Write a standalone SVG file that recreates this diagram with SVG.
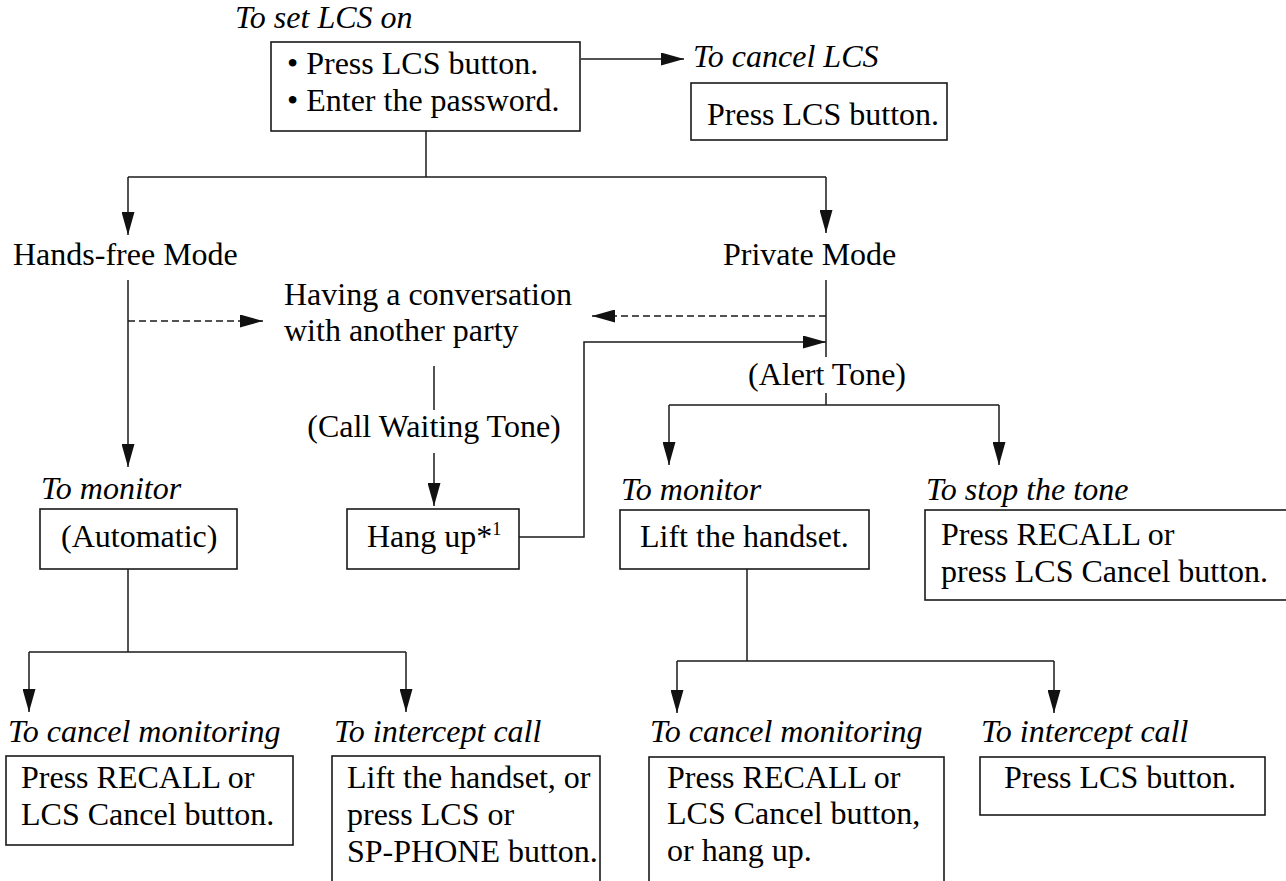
<svg xmlns="http://www.w3.org/2000/svg" width="1286" height="881" viewBox="0 0 1286 881">
<defs>
<marker id="ah" viewBox="0 0 23 13" markerWidth="23" markerHeight="13" markerUnits="userSpaceOnUse" refX="23" refY="6.5" orient="auto">
<path d="M0,0 L23,6.5 L0,13 Z" fill="#111"/>
</marker>
<style>
.t{font-family:"Liberation Serif","Times New Roman",serif;font-size:32px;fill:#000}
.i{font-style:italic}
.m{text-anchor:middle}
.box{fill:#fff;stroke:#1a1a1a;stroke-width:1.6}
.ln{fill:none;stroke:#1a1a1a;stroke-width:1.5}
.ar{fill:none;stroke:#1a1a1a;stroke-width:1.5;marker-end:url(#ah)}
.da{stroke-dasharray:7 4}
</style>
</defs>
<rect width="1286" height="881" fill="#fff"/>

<g id="connectors">
<line class="ar" x1="581" y1="59" x2="684" y2="59"/>
<line class="ln" x1="426" y1="131" x2="426" y2="177"/>
<line class="ln" x1="128" y1="177" x2="826" y2="177"/>
<line class="ar" x1="128" y1="177" x2="128" y2="235"/>
<line class="ar" x1="826" y1="177" x2="826" y2="233"/>
<line class="ar" x1="128" y1="280" x2="128" y2="467"/>
<line class="ar da" x1="128" y1="321" x2="263" y2="321"/>
<line class="ln" x1="826" y1="280" x2="826" y2="357"/>
<line class="ar da" x1="826" y1="316" x2="592" y2="316"/>
<path class="ar" d="M519,537 H584 V342 H826"/>
<line class="ln" x1="434" y1="366" x2="434" y2="410"/>
<line class="ar" x1="434" y1="453" x2="434" y2="506"/>
<line class="ln" x1="826" y1="393" x2="826" y2="405"/>
<line class="ln" x1="669" y1="405" x2="999" y2="405"/>
<line class="ar" x1="669" y1="405" x2="669" y2="465"/>
<line class="ar" x1="999" y1="405" x2="999" y2="465"/>
<line class="ln" x1="128" y1="569" x2="128" y2="652"/>
<line class="ln" x1="29" y1="652" x2="406" y2="652"/>
<line class="ar" x1="29" y1="652" x2="29" y2="712"/>
<line class="ar" x1="406" y1="652" x2="406" y2="712"/>
<line class="ln" x1="747" y1="569" x2="747" y2="661"/>
<line class="ln" x1="677" y1="661" x2="1054" y2="661"/>
<line class="ar" x1="677" y1="661" x2="677" y2="713"/>
<line class="ar" x1="1054" y1="661" x2="1054" y2="713"/>
</g>

<g id="set-lcs">
<text class="t i" x="235" y="28">To set LCS on</text>
<rect class="box" x="271" y="42" width="309" height="89"/>
<text class="t" x="287" y="74">• Press LCS button.</text>
<text class="t" x="287" y="111">• Enter the password.</text>
</g>

<g id="cancel-lcs">
<text class="t i" x="693" y="67">To cancel LCS</text>
<rect class="box" x="691" y="83" width="256" height="57"/>
<text class="t" x="707" y="125">Press LCS button.</text>
</g>

<g id="hands-free">
<text class="t" x="13" y="265">Hands-free Mode</text>
</g>

<g id="private">
<text class="t" x="723" y="265">Private Mode</text>
</g>

<g id="conversation">
<text class="t" x="284" y="305">Having a conversation</text>
<text class="t" x="284" y="341">with another party</text>
</g>

<g id="call-waiting">
<text class="t m" x="434" y="437">(Call Waiting Tone)</text>
</g>

<g id="alert-tone">
<text class="t m" x="827" y="385">(Alert Tone)</text>
</g>

<g id="monitor-left">
<text class="t i" x="41" y="499">To monitor</text>
<rect class="box" x="40" y="509" width="197" height="60"/>
<text class="t" x="61" y="547">(Automatic)</text>
</g>

<g id="hang-up">
<rect class="box" x="347" y="509" width="172" height="60"/>
<text class="t" x="367" y="547">Hang up*<tspan font-size="18" dy="-12">1</tspan></text>
</g>

<g id="monitor-right">
<text class="t i" x="621" y="500">To monitor</text>
<rect class="box" x="620" y="510" width="249" height="59"/>
<text class="t" x="640" y="547">Lift the handset.</text>
</g>

<g id="stop-tone">
<text class="t i" x="926" y="500">To stop the tone</text>
<rect class="box" x="925" y="510" width="370" height="90"/>
<text class="t" x="941" y="545">Press RECALL or</text>
<text class="t" x="941" y="582">press LCS Cancel button.</text>
</g>

<g id="cancel-mon-left">
<text class="t i" x="8" y="742">To cancel monitoring</text>
<rect class="box" x="6" y="756" width="287" height="89"/>
<text class="t" x="21" y="788">Press RECALL or</text>
<text class="t" x="21" y="825">LCS Cancel button.</text>
</g>

<g id="intercept-left">
<text class="t i" x="334" y="742">To intercept call</text>
<rect class="box" x="332" y="756" width="268" height="140"/>
<text class="t" x="347" y="788">Lift the handset, or</text>
<text class="t" x="347" y="825">press LCS or</text>
<text class="t" x="347" y="862">SP-PHONE button.</text>
</g>

<g id="cancel-mon-right">
<text class="t i" x="650" y="742">To cancel monitoring</text>
<rect class="box" x="649" y="757" width="295" height="140"/>
<text class="t" x="667" y="788">Press RECALL or</text>
<text class="t" x="667" y="824">LCS Cancel button,</text>
<text class="t" x="667" y="861">or hang up.</text>
</g>

<g id="intercept-right">
<text class="t i" x="981" y="742">To intercept call</text>
<rect class="box" x="980" y="757" width="285" height="58"/>
<text class="t" x="1004" y="788">Press LCS button.</text>
</g>
</svg>
